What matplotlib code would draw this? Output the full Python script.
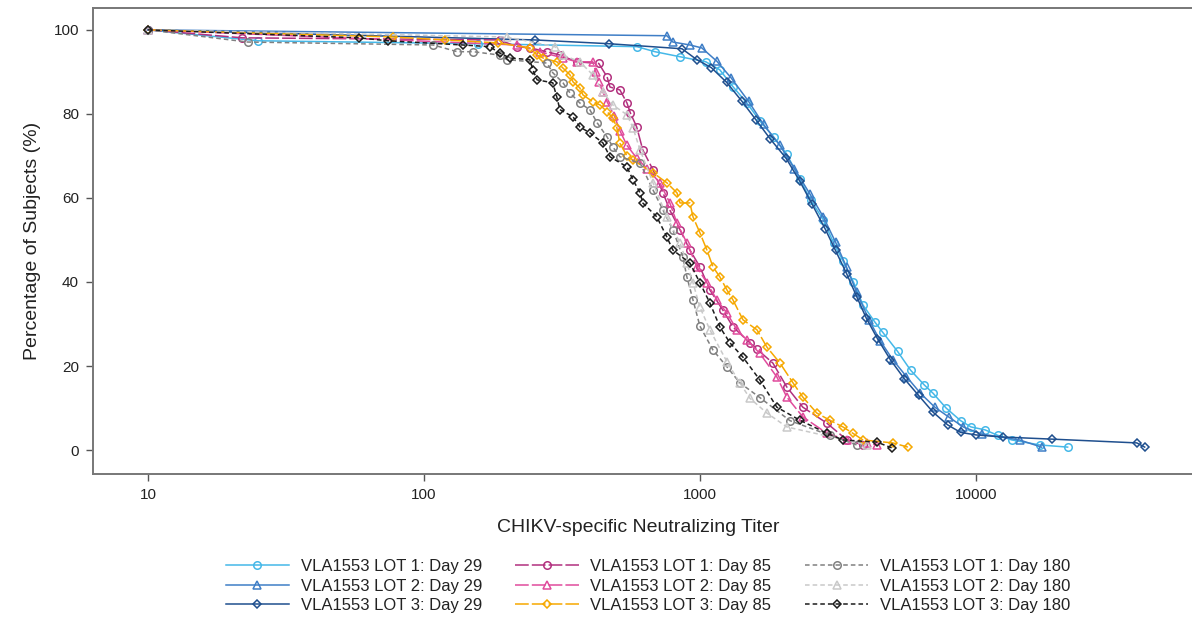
import matplotlib
matplotlib.use("Agg")
import matplotlib.pyplot as plt
from matplotlib.ticker import FixedLocator, NullLocator

plt.rcParams['font.family'] = ['Liberation Sans', 'DejaVu Sans']

# reverse cumulative distributions
# titer values / percentage of subjects with titer >= value
t_l1_d29 = [10, 25, 157, 591, 687, 847, 1050, 1180, 1320, 1480, 1650, 1850, 2060, 2300, 2520,
            2800, 3050, 3300, 3600, 3900, 4300, 4600, 5200, 5800, 6500, 7000, 7800, 8800, 9600,
            10800, 12000, 13500, 17100, 21500]
p_l1_d29 = [100, 97.4, 96.7, 96.0, 94.8, 93.6, 92.4, 90.5, 86.4, 82.6, 78.3, 74.5, 70.5, 64.5, 59.5,
            54.8, 49.3, 45.0, 40.0, 34.5, 30.5, 28.0, 23.5, 19.0, 15.5, 13.5, 10.0, 7.0, 5.5,
            4.8, 3.5, 2.4, 1.2, 0.7]

t_l2_d29 = [10, 759, 798, 920, 1016, 1153, 1300, 1500, 1700, 1950, 2200, 2500, 2800, 3100, 3400,
            3700, 4100, 4500, 5000, 5600, 6300, 7100, 8000, 9000, 10500, 14400, 17300]
p_l2_d29 = [100, 98.6, 97.1, 96.4, 95.7, 92.5, 88.5, 83.0, 77.5, 72.5, 67.0, 61.0, 55.5, 49.5, 43.5,
            37.5, 31.0, 26.0, 21.5, 17.5, 13.5, 10.2, 7.8, 5.5, 3.8, 2.4, 0.7]

t_l3_d29 = [10, 252, 468, 861, 975, 1100, 1250, 1420, 1600, 1800, 2050, 2300, 2550, 2850, 3100,
            3400, 3700, 4000, 4400, 4900, 5500, 6200, 7000, 7900, 8800, 10000, 12500, 18850, 38300,
            40900]
p_l3_d29 = [100, 97.6, 96.7, 95.5, 92.9, 91.0, 87.5, 83.0, 78.5, 74.0, 69.5, 64.0, 58.5, 52.5, 47.5,
            42.0, 36.5, 31.5, 26.5, 21.5, 17.0, 13.0, 9.0, 6.0, 4.2, 3.6, 3.1, 2.6, 1.7,
            0.7]

t_l1_d85 = [10, 22, 188, 217, 242, 279, 311, 358, 430, 461, 472, 513, 544, 560, 590, 621, 676, 735,
            778, 847, 920, 1000, 1087, 1211, 1318, 1518, 1610, 1838, 2065, 2360, 2884, 3410, 3898]
p_l1_d85 = [100, 98.1, 97.6, 96.0, 95.7, 94.8, 94.0, 92.4, 92.0, 88.8, 86.4, 85.7, 82.6, 80.2, 76.9,
            71.4, 66.7, 61.2, 57.1, 52.4, 47.6, 43.6, 38.1, 33.3, 29.3, 25.5, 24.0, 20.7, 15.0, 10.2,
            6.4, 2.4, 1.2]

t_l2_d85 = [10, 217, 263, 319, 358, 409, 420, 430, 445, 461, 490, 513, 544, 590, 643, 716, 778, 826,
            897, 975, 1060, 1153, 1253, 1362, 1480, 1648, 1900, 2065, 2360, 2884, 3410, 4030, 4375]
p_l2_d85 = [100, 96.4, 94.8, 93.3, 92.4, 92.4, 90.0, 87.6, 85.2, 82.9, 79.5, 76.0, 72.5, 69.5, 67.0,
            63.6, 58.8, 54.0, 49.3, 43.6, 39.8, 35.7, 32.6, 28.6, 26.2, 23.0, 17.4, 12.6, 7.9, 4.0,
            2.4, 1.7, 1.2]

t_l3_d85 = [10, 77, 119, 185, 242, 257, 270, 303, 319, 338, 347, 367, 377, 409, 435, 461, 484, 500,
            513, 544, 572, 676, 759, 826, 847, 920, 944, 1000, 1060, 1115, 1181, 1253, 1318, 1432,
            1610, 1749, 1950, 2174, 2360, 2652, 2958, 3298, 3582, 3898, 5000, 5670]
p_l3_d85 = [100, 98.3, 97.6, 96.9, 95.7, 94.0, 93.3, 92.4, 90.9, 89.3, 87.6, 86.2, 84.5, 82.9, 82.1,
            80.5, 79.0, 76.7, 73.0, 70.0, 69.0, 66.0, 63.6, 61.2, 58.8, 58.8, 55.5, 51.7, 47.6, 43.6,
            41.2, 38.1, 35.7, 31.0, 28.6, 24.5, 20.7, 16.0, 12.6, 8.8, 7.1, 5.5, 4.0, 2.4, 1.7, 0.7]

t_l1_d180 = [10, 23, 108, 132, 151, 188, 200, 279, 293, 319, 338, 367, 399, 424, 461, 484, 513, 607,
             676, 735, 798, 867, 897, 944, 1000, 1115, 1253, 1395, 1648, 2119, 2958, 3707]
p_l1_d180 = [100, 97.1, 96.4, 94.8, 94.8, 94.0, 92.9, 92.1, 89.8, 87.4, 85.0, 82.6, 81.0, 77.9, 74.5,
             72.1, 69.8, 68.3, 61.9, 57.1, 52.4, 46.0, 41.2, 35.7, 29.5, 23.8, 19.8, 16.0, 12.5, 7.0,
             3.5, 1.2]

t_l2_d180 = [10, 200, 298, 319, 367, 409, 445, 484, 544, 572, 607, 676, 759, 847, 897, 944, 1000,
             1087, 1253, 1395, 1518, 1749, 2065, 4030]
p_l2_d180 = [100, 98.3, 96.0, 94.0, 92.4, 89.3, 85.2, 82.1, 79.8, 76.7, 71.4, 63.6, 55.5, 49.3, 44.5,
             39.8, 34.0, 28.6, 21.0, 16.0, 12.3, 8.8, 5.5, 1.2]

t_l3_d180 = [10, 58, 74, 138, 173, 188, 205, 242, 248, 257, 293, 303, 311, 347, 367, 399, 445, 472,
             544, 572, 607, 621, 698, 759, 798, 920, 1000, 1087, 1181, 1285, 1432, 1648, 1900, 2302,
             2884, 3298, 4375, 4966]
p_l3_d180 = [100, 98.1, 97.4, 96.4, 96.0, 94.5, 93.3, 92.9, 90.5, 88.1, 87.4, 84.0, 81.0, 79.3, 76.9,
             75.5, 73.1, 69.8, 67.4, 64.3, 61.2, 58.8, 55.5, 50.7, 47.6, 44.5, 39.8, 35.0, 29.3, 25.5,
             22.1, 16.7, 10.2, 7.1, 4.0, 2.4, 1.9, 0.5]

labels = ["VLA1553 LOT 1: Day 29", "VLA1553 LOT 2: Day 29", "VLA1553 LOT 3: Day 29",
          "VLA1553 LOT 1: Day 85", "VLA1553 LOT 2: Day 85", "VLA1553 LOT 3: Day 85",
          "VLA1553 LOT 1: Day 180", "VLA1553 LOT 2: Day 180", "VLA1553 LOT 3: Day 180"]
x_ticks = [10, 100, 1000, 10000]
y_ticks = [0, 20, 40, 60, 80, 100]

series = [
    (t_l1_d29, p_l1_d29, "#45B8E8", "o", "-"),
    (t_l2_d29, p_l2_d29, "#3F7EC6", "^", "-"),
    (t_l3_d29, p_l3_d29, "#1F4F8E", "D", "-"),
    (t_l1_d85, p_l1_d85, "#B2307E", "o", (0, (9, 2))),
    (t_l2_d85, p_l2_d85, "#E04B9C", "^", (0, (9, 2))),
    (t_l3_d85, p_l3_d85, "#F6A800", "D", (0, (9, 2))),
    (t_l1_d180, p_l1_d180, "#808080", "o", (0, (3, 2))),
    (t_l2_d180, p_l2_d180, "#C9C9C9", "^", (0, (3, 2))),
    (t_l3_d180, p_l3_d180, "#1C1C1C", "D", (0, (3, 2))),
]

fig = plt.figure(figsize=(11.92, 6.2), dpi=100)
ax = fig.add_axes([93 / 1192, 1 - 474 / 620, 1 - 93 / 1192, (474 - 8) / 620])

handles = []
for (t, p, col, mk, ls), lab in zip(series, labels):
    ms = 4.4 if mk == "D" else 5.4
    h, = ax.plot(t, p, color=col, marker=mk, ms=ms, mfc="none", mec=col, mew=1.1,
                 lw=1.1, ls=ls, label=lab)
    handles.append(h)

ax.set_xscale("log")
ax.set_xlim(6.32, 60700)
ax.set_ylim(-5.7, 105.2)
ax.xaxis.set_major_locator(FixedLocator(x_ticks))
ax.xaxis.set_minor_locator(NullLocator())
ax.set_xticks(x_ticks)
ax.set_xticklabels([str(v) for v in x_ticks])
ax.set_yticks(y_ticks)
ax.tick_params(axis="both", direction="out", length=5, width=1.0, color="#555555",
               labelsize=11, labelcolor="#222222", pad=5)
for side in ("left", "bottom", "top"):
    ax.spines[side].set_color("#777777")
    ax.spines[side].set_linewidth(1.4)
ax.spines["right"].set_visible(False)

ax.set_ylabel("Percentage of Subjects (%)", fontsize=14, color="#222222", labelpad=9)
fig.text(638 / 1192, 1 - 527 / 620, "CHIKV-specific Neutralizing Titer", ha="center",
         va="center", fontsize=14, color="#222222")

leg = fig.legend(handles=handles, loc="center", bbox_to_anchor=(648 / 1192, 1 - 586 / 620),
                 ncol=3, frameon=False, fontsize=12, handlelength=3.8, columnspacing=2.0,
                 handletextpad=0.7, labelspacing=0.26)
for t in leg.get_texts():
    t.set_color("#222222")

fig.savefig("out.png", dpi=100)
